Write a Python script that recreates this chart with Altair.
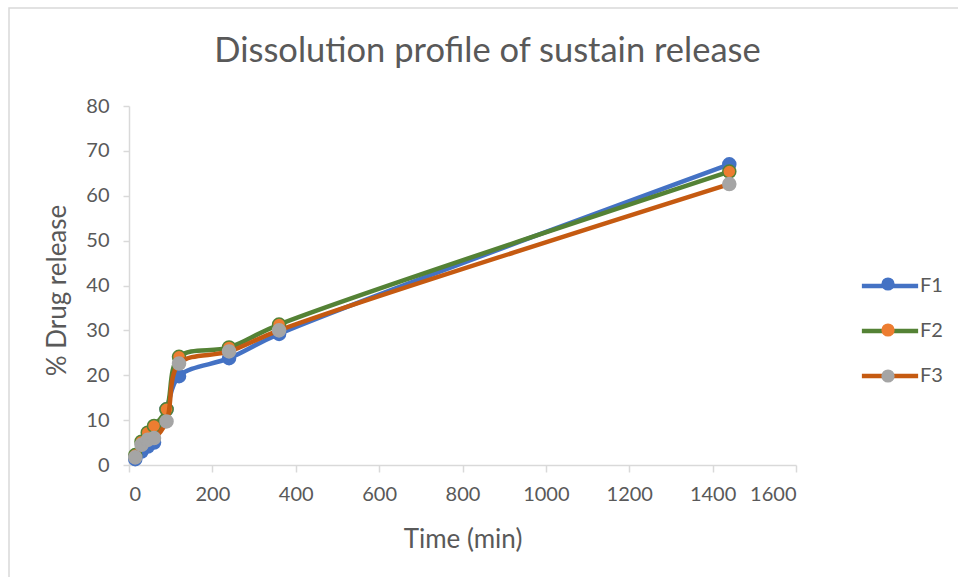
import altair as alt
import pandas as pd

time_min = [15, 30, 45, 60, 90, 120, 240, 360, 1440]
F1 = [1.3, 3.0, 4.1, 5.0, 12.4, 19.8, 23.8, 29.2, 67.0]
F2 = [2.2, 5.2, 7.2, 8.7, 12.4, 24.1, 26.2, 31.3, 65.4]
F3 = [1.7, 4.5, 5.6, 6.0, 9.7, 22.6, 25.3, 30.0, 62.6]

series_names = ["F1", "F2", "F3"]
marker_names = ["F1 marker", "F2 marker", "F3 marker"]
line_colors = ["#4472C4", "#548235", "#C55A11"]
marker_fill = ["#4472C4", "#ED7D31", "#A5A5A5"]
marker_stroke = ["#4472C4", "#548235", "#A5A5A5"]

rows = []
for name, mname, vals in zip(series_names, marker_names, [F1, F2, F3]):
    for t, v in zip(time_min, vals):
        rows.append({"time": t, "release": v, "series": name, "marker": mname})
df = pd.DataFrame(rows)

FONT = "Lato"
TXT = "#595959"

x_enc = alt.X("time:Q", scale=alt.Scale(domain=[0, 1600], nice=False),
              axis=alt.Axis(values=list(range(0, 1601, 200)), title="Time (min)",
                            format="d", grid=False, tickSize=7, labelPadding=12,
                            titleY=82, titleBaseline="alphabetic",
                            titleFontSize=26, titleFontWeight="normal"))
y_enc = alt.Y("release:Q", scale=alt.Scale(domain=[0, 80], nice=False),
              axis=alt.Axis(values=list(range(0, 81, 10)), title="% Drug release",
                            format="d", grid=False, tickSize=6, labelPadding=14,
                            titleX=-64, titleY=184, titleBaseline="alphabetic",
                            titleAlign="center", titleAngle=-90,
                            titleFontSize=26, titleFontWeight="normal"))

stroke_enc = alt.Stroke("series:N",
                        scale=alt.Scale(domain=series_names, range=line_colors),
                        legend=alt.Legend(orient="none", legendX=751, legendY=170,
                                          title=None, symbolType="M-5.2,0L5.2,0",
                                          symbolSize=117, symbolStrokeWidth=4.5,
                                          labelFontSize=20, labelOffset=20,
                                          rowPadding=25, padding=0))
fill_enc = alt.Fill("marker:N",
                    scale=alt.Scale(domain=marker_names, range=marker_fill),
                    legend=alt.Legend(orient="none", legendX=752, legendY=171,
                                      title=None, symbolType="circle",
                                      symbolSize=175, symbolStrokeWidth=0,
                                      labelExpr="''", labelFontSize=1,
                                      rowPadding=32, padding=0))

base = alt.Chart(df)
layers = []
for name, sc in zip(series_names, marker_stroke):
    sub = base.transform_filter(alt.datum.series == name)
    layers.append(sub.mark_line(interpolate="catmull-rom", strokeWidth=4.5,
                                strokeCap="round", strokeJoin="round").encode(
        x=x_enc, y=y_enc, stroke=stroke_enc, order="time:Q"))
    layers.append(sub.mark_point(filled=True, size=170, opacity=1,
                                 strokeWidth=1.5, stroke=sc).encode(
        x=x_enc, y=y_enc, fill=fill_enc))

frame = alt.Chart(alt.Data(values=[{}])).mark_rect(
    fill="transparent", stroke="#D9D9D9", strokeWidth=1.5).encode(
    x=alt.value(-120), x2=alt.value(900), y=alt.value(-98), y2=alt.value(600))

chart = alt.layer(frame, *layers).properties(
    width=667, height=359,
    background="white",
    title=alt.Title("Dissolution profile of sustain release", fontSize=34.5,
                    font=FONT, color=TXT, fontWeight="normal", anchor="middle",
                    frame="group", baseline="alphabetic", offset=0, dy=89, dx=25),
    autosize=alt.AutoSizeParams(type="none"),
    padding={"left": 129, "top": 106, "right": 162, "bottom": 112},
).configure_view(stroke=None).configure_axis(
    labelFont=FONT, titleFont=FONT, labelColor=TXT, titleColor=TXT,
    labelFontSize=20, domainColor="#D9D9D9", tickColor="#D9D9D9",
    domainWidth=1.5, tickWidth=1.5,
).configure_legend(labelFont=FONT, labelColor=TXT)

chart.save("out.html", embed_options={"renderer": "svg", "actions": False})
